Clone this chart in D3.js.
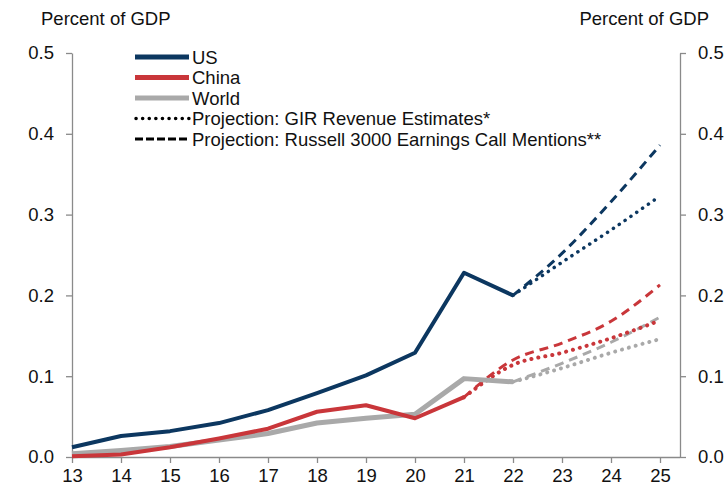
<!DOCTYPE html>
<html>
<head>
<meta charset="utf-8">
<script src="https://cdn.jsdelivr.net/npm/d3@7"></script>
<style>
  body { margin: 0; background: #fff; }
  text { font-family: Arial, "Liberation Sans", sans-serif; }
</style>
</head>
<body>
<script>
// data (percent of GDP)
var years = [13, 14, 15, 16, 17, 18, 19, 20, 21, 22];
var us = [0.012, 0.026, 0.032, 0.042, 0.058, 0.079, 0.101, 0.129, 0.228, 0.200];
var china = [0.001, 0.003, 0.012, 0.023, 0.035, 0.056, 0.064, 0.048, 0.074];
var world = [0.004, 0.008, 0.013, 0.021, 0.029, 0.042, 0.048, 0.053, 0.097, 0.093];

// projections
var usProjYears = [22, 23, 24, 25];
var usGir = [0.200, 0.241, 0.281, 0.323];
var usRussell = [0.200, 0.252, 0.316, 0.386];
var chinaProjYears = [21, 22, 23, 24, 25];
var chinaGir = [0.074, 0.114, 0.129, 0.147, 0.169];
var chinaRussell = [0.074, 0.120, 0.141, 0.168, 0.213];
var worldProjYears = [22, 23, 24, 25];
var worldGir = [0.093, 0.110, 0.129, 0.146];
var worldRussell = [0.093, 0.116, 0.142, 0.173];

var xTicks = [13, 14, 15, 16, 17, 18, 19, 20, 21, 22, 23, 24, 25];
var yTicks = [0, 0.1, 0.2, 0.3, 0.4, 0.5];
var legendItems = ["US", "China", "World", "Projection: GIR Revenue Estimates*", "Projection: Russell 3000 Earnings Call Mentions**"];

var w = 727, h = 487;
var colUS = "#0c3760", colChina = "#c9363a", colWorld = "#a9a9a9", axisCol = "#8a8a8a";
var fs = "18.5px";

var svg = d3.select("body").append("svg")
    .attr("width", w)
    .attr("height", h);

var x = d3.scaleLinear().domain([13, 25]).range([72, 660]);
var y = d3.scaleLinear().domain([0, 0.5]).range([457, 53]);

// axes
var xAxis = svg.append("g")
    .attr("transform", "translate(0,457)")
    .call(d3.axisBottom(x).tickValues(xTicks).tickFormat(d3.format("d")).tickSize(6).tickSizeOuter(0));
xAxis.select(".domain").attr("d", "M72,0.5H680");

var yLeft = svg.append("g")
    .attr("transform", "translate(72,0)")
    .call(d3.axisLeft(y).tickValues(yTicks).tickFormat(d3.format(".1f")).tickSize(6).tickSizeOuter(0));

var yRight = svg.append("g")
    .attr("transform", "translate(680,0)")
    .call(d3.axisRight(y).tickValues(yTicks).tickFormat(d3.format(".1f")).tickSize(6).tickSizeOuter(0));

svg.selectAll(".domain").attr("stroke", axisCol).attr("stroke-width", 1.3);
svg.selectAll(".tick line").attr("stroke", axisCol).attr("stroke-width", 1.3);
svg.selectAll(".tick text").attr("font-size", fs).attr("fill", "#111")
    .attr("font-family", "Arial, 'Liberation Sans', sans-serif");
xAxis.selectAll(".tick text").attr("y", 25).attr("dy", null);
yLeft.selectAll(".tick text").attr("x", -18);
yRight.selectAll(".tick text").attr("x", 18);

// axis titles
svg.append("text").attr("x", 41).attr("y", 25).attr("font-size", fs).attr("fill", "#111").text("Percent of GDP");
svg.append("text").attr("x", 709).attr("y", 25).attr("font-size", fs).attr("fill", "#111")
    .attr("text-anchor", "end").text("Percent of GDP");

function drawLine(xs, vals, color, width, dash) {
    var line = d3.line()
        .x(function(d, i) { return x(xs[i]); })
        .y(function(d) { return y(d); })
        .curve(dash ? d3.curveMonotoneX : d3.curveLinear);
    var p = svg.append("path")
        .datum(vals)
        .attr("d", line)
        .attr("fill", "none")
        .attr("stroke", color)
        .attr("stroke-width", width)
        .attr("stroke-linejoin", "round");
    if (dash == "dot") p.attr("stroke-dasharray", "0.1,7").attr("stroke-linecap", "round");
    if (dash == "dash") p.attr("stroke-dasharray", "9,6");
}

// projections under the history lines
drawLine(worldProjYears, worldGir, colWorld, 4, "dot");
drawLine(worldProjYears, worldRussell, colWorld, 3, "dash");
drawLine(chinaProjYears, chinaGir, colChina, 4, "dot");
drawLine(chinaProjYears, chinaRussell, colChina, 3, "dash");
drawLine(usProjYears, usGir, colUS, 3.5, "dot");
drawLine(usProjYears, usRussell, colUS, 3, "dash");

drawLine(years, world, colWorld, 5);
drawLine(years.slice(0, china.length), china, colChina, 4);
drawLine(years, us, colUS, 4);

// legend
var legend = svg.append("g");
var legendStyles = [
    {c: colUS, wd: 5, d: null},
    {c: colChina, wd: 5, d: null},
    {c: colWorld, wd: 5, d: null},
    {c: "#000", wd: 3.5, d: "dot"},
    {c: "#000", wd: 3, d: "dash"}
];
legendItems.forEach(function(t, i) {
    var ly = 57 + i * 20.5;
    var s = legendStyles[i];
    var l = legend.append("line")
        .attr("x1", 135).attr("x2", 189)
        .attr("y1", ly).attr("y2", ly)
        .attr("stroke", s.c).attr("stroke-width", s.wd);
    if (s.d == "dot") l.attr("stroke-dasharray", "0.1,6.5").attr("stroke-linecap", "round").attr("x1", 136);
    if (s.d == "dash") l.attr("stroke-dasharray", "8,3");
    legend.append("text")
        .attr("x", 192).attr("y", ly + 6.5)
        .attr("font-size", fs).attr("fill", "#111")
        .text(t);
});
</script>
</body>
</html>
